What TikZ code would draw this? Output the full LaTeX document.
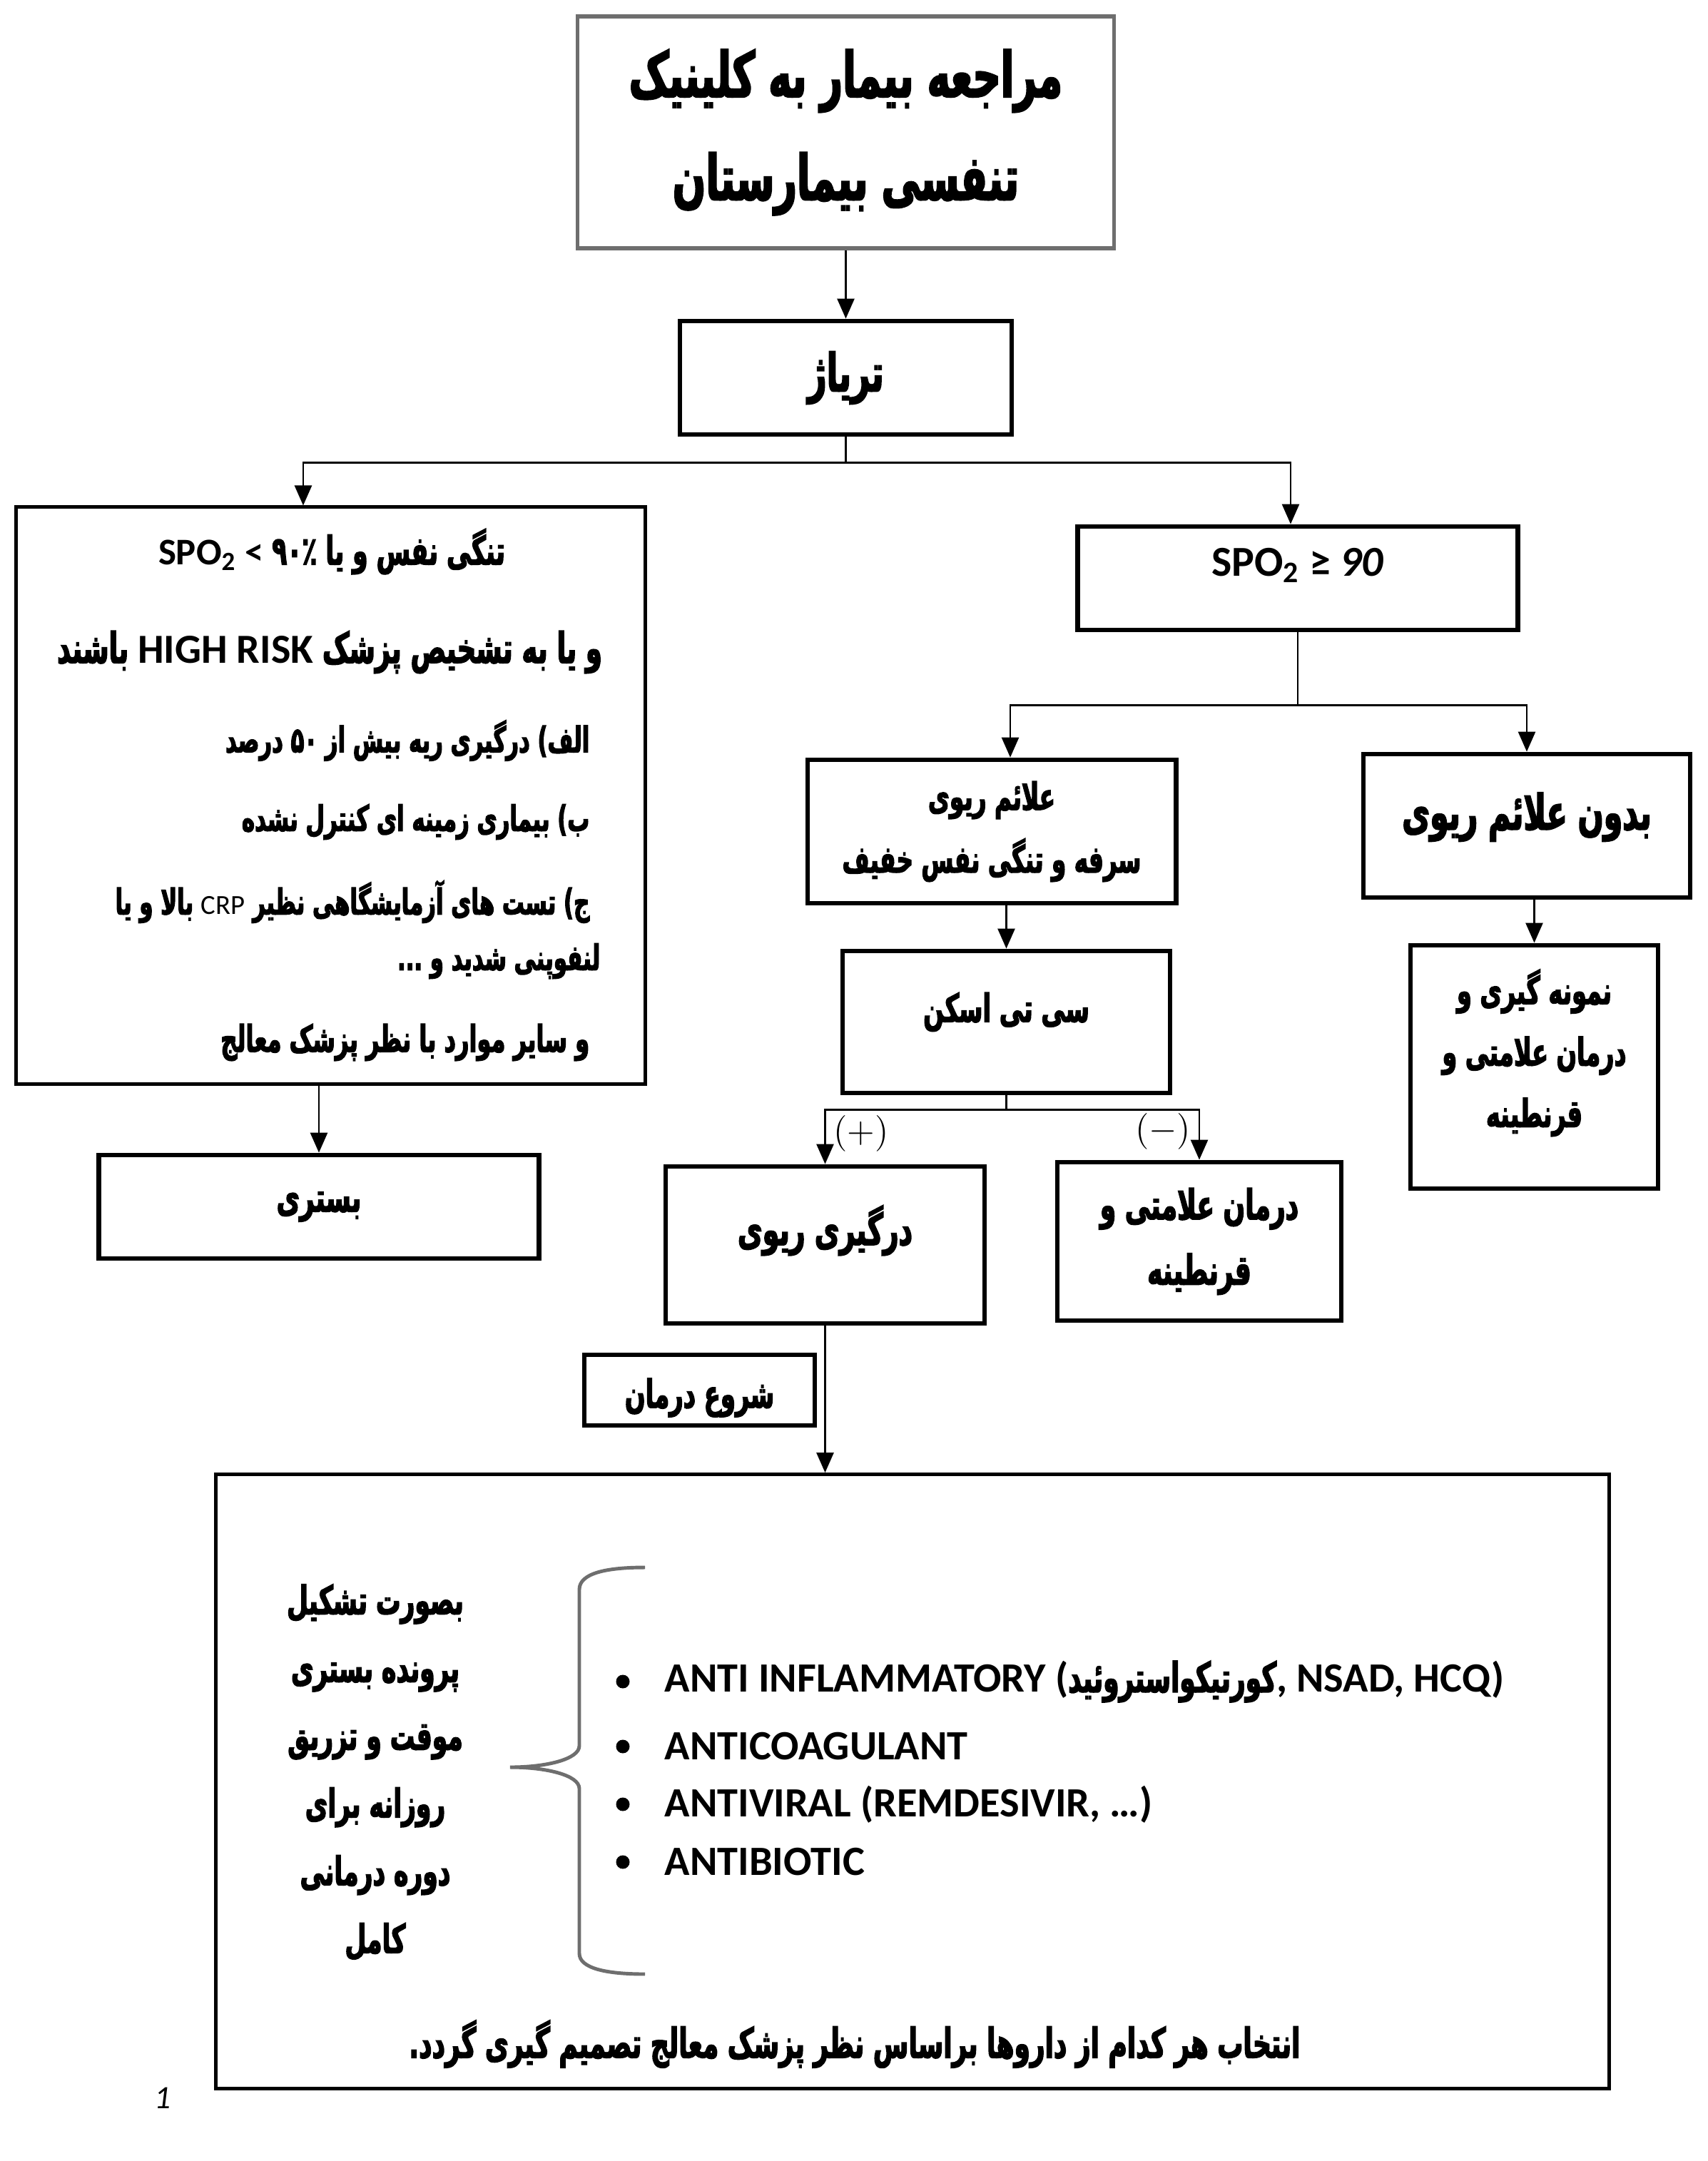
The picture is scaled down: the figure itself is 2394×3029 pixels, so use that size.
\documentclass[tikz,border=0pt]{standalone}
\usepackage{fontspec}
\setmainfont{Carlito}
\newfontfamily\latinfont{Carlito}
\newfontfamily\persianfont[Script=Arabic,FakeStretch=0.62,FakeBold=2.5]{DejaVu Sans}
\TeXXeTstate=1
\usepackage{tikz}
\usetikzlibrary{arrows.meta,positioning,calc}
\definecolor{Ink}{HTML}{000000}
\definecolor{Frame}{HTML}{6E6E6E}
\newcommand{\fatext}[1]{{\persianfont\beginR #1\endR}}
\newcommand{\latinpart}[2]{{\latinfont\fontsize{#1}{#1}\selectfont #2}}
\newcommand{\lift}[2]{\raisebox{#1}[0pt][0pt]{#2}}
\tikzset{
  stepbox/.style={draw=Ink,line width=1.9pt,fill=white,inner sep=0pt,align=center},
  titlebox/.style={stepbox,draw=Frame,line width=1.5pt},
  criteriabox/.style={stepbox,line width=1.3pt},
  treatbox/.style={stepbox,line width=1.5pt},
  fsize/.style 2 args={font=\bfseries\persianfont\fontsize{#1}{#2}\selectfont},
  lsize/.style 2 args={font=\bfseries\fontsize{#1}{#2}\selectfont},
  textline/.style={inner sep=0pt},
  arrow/.style={-{Triangle[length=2.8mm,width=2.4mm]},line width=0.75pt,draw=Ink},
  link/.style={line width=0.75pt,draw=Ink},
  branch/.style={font=\fontsize{14}{16}\selectfont,inner sep=3pt},
  brace/.style={draw=Frame,line width=1.4pt},
  dot/.style={circle,fill=Ink,inner sep=0pt,minimum size=1.9mm}
}
\begin{document}
\begin{tikzpicture}[x=0.01cm,y=-0.01cm]
  \useasboundingbox (0,0) rectangle (2394,3029);
  \node[titlebox,minimum width=75.1mm,minimum height=32.5mm,fsize={25}{41}] (visit) at (1185.5,185.5) {\fatext{مراجعه بیمار به کلینیک}\\\fatext{تنفسی بیمارستان}};
  \node[stepbox,minimum width=46.5mm,minimum height=15.9mm,fsize={21}{24}] (triage) at (1185.5,529.5) {\fatext{تریاژ}};
  \node[criteriabox,minimum width=88.1mm,minimum height=80.8mm] (severe) at (463.5,1115) {};
  \node[stepbox,minimum width=61.6mm,minimum height=14.5mm,lsize={17}{20}] (mild) at (1819,810.5) {\lift{1pt}{SPO\textsubscript{2} ≥ \textit{90}}};
  \node[stepbox,minimum width=51.6mm,minimum height=20.1mm,fsize={15}{25}] (lungsym) at (1390,1165.5) {\fatext{علائم ریوی}\\\fatext{سرفه و تنگی نفس خفیف}};
  \node[stepbox,minimum width=45.8mm,minimum height=20.1mm,fsize={19.5}{22}] (nosym) at (2140,1157.5) {\lift{-1.5pt}{\fatext{بدون علائم ریوی}}};
  \node[stepbox,minimum width=45.9mm,minimum height=19.9mm,fsize={15.5}{20}] (ctscan) at (1410.5,1432.5) {\lift{0pt}{\fatext{سی تی اسکن}}};
  \node[stepbox,minimum width=34.7mm,minimum height=34.1mm,fsize={15.3}{24.5},text depth=15pt] (sampling) at (2150.5,1495.5) {\fatext{نمونه گیری و}\\\fatext{درمان علامتی و}\\\fatext{قرنطینه}};
  \node[stepbox,minimum width=44.7mm,minimum height=22mm,fsize={17.4}{20}] (involve) at (1156.5,1745) {\lift{0pt}{\fatext{درگیری ریوی}}};
  \node[stepbox,minimum width=39.8mm,minimum height=22.2mm,fsize={16.5}{26}] (symtreat) at (1681,1740) {\fatext{درمان علامتی و}\\\fatext{قرنطینه}};
  \node[stepbox,minimum width=61.6mm,minimum height=14.5mm,fsize={16.3}{20}] (admit) at (447,1691.5) {\fatext{بستری}};
  \node[stepbox,minimum width=32.3mm,minimum height=9.9mm,fsize={15.5}{20}] (startrx) at (980.5,1948.5) {\lift{-7pt}{\fatext{شروع درمان}}};
  \node[treatbox,minimum width=195.2mm,minimum height=86mm] (regimen) at (1279,2497) {};
  \node[textline,fsize={15.8}{18}] (sev1) at (465,773) {\fatext{تنگی نفس و یا \beginL\latinpart{15}{SPO\textsubscript{2} <} ۹۰٪\endL}};
  \node[textline,fsize={16.9}{18}] (sev2) at (462,914) {\fatext{و یا به تشخیص پزشک \beginL\latinpart{16.5}{HIGH RISK}\endL{} باشند}};
  \node[textline,fsize={14.1}{18},anchor=east] (sev3) at (827,1038) {\fatext{الف) درگیری ریه بیش از ۵۰ درصد}};
  \node[textline,fsize={14.1}{18},anchor=east] (sev4) at (827,1152) {\fatext{ب) بیماری زمینه ای کنترل نشده}};
  \node[textline,fsize={14.1}{18},anchor=east] (sev5) at (827,1264) {\fatext{ج) تست های آزمایشگاهی نظیر \beginL{\mdseries\latinpart{11}{CRP}}\endL{} بالا  و یا}};
  \node[textline,fsize={14.1}{18},anchor=east] (sev6) at (842,1347) {\fatext{لنفوپنی شدید و ...}};
  \node[textline,fsize={14.7}{18},anchor=east] (sev7) at (827,1461) {\fatext{و سایر موارد با نظر پزشک معالج}};
  \draw[arrow] (visit) -- (triage);
  \coordinate (triagefork) at ($(triage.south)+(0,36)$);
  \draw[link] (triage.south) -- (triagefork);
  \draw[arrow] (triagefork) -| ([xshift=-3.85mm]severe.north);
  \draw[arrow] (triagefork) -| ([xshift=-1mm]mild.north);
  \coordinate (mildfork) at ($(mild.south)+(0,102)$);
  \draw[link] (mild.south) -- (mildfork);
  \draw[arrow] (mildfork) -| ([xshift=2.6mm]lungsym.north);
  \draw[arrow] (mildfork) -| (nosym.north);
  \draw[arrow] (lungsym.south -| ctscan.north) -- (ctscan.north);
  \draw[arrow] (nosym.south -| sampling.north) -- (sampling.north);
  \coordinate (ctfork) at ($(ctscan.south)+(0,20)$);
  \draw[link] (ctscan.south) -- (ctfork);
  \draw[arrow] (ctfork) -| node[branch,pos=0.72,right] {$(+)$} (involve.north);
  \draw[arrow] (ctfork) -| node[branch,pos=0.72,left] {$(-)$} (symtreat.north);
  \draw[arrow] (severe.south -| admit.north) -- (admit.north);
  \draw[arrow] (involve) -- (involve.south |- regimen.north);
  \node[textline,fsize={15.8}{27},align=center] (inpatient) at (526,2484) {\fatext{بصورت تشکیل}\\\fatext{پرونده بستری}\\\fatext{موقت و تزریق}\\\fatext{روزانه برای}\\\fatext{دوره درمانی}\\\fatext{کامل}};
  \draw[brace] (904,2197) .. controls (850,2197) and (812,2205) .. (812,2228) -- (812,2447) .. controls (812,2466) and (765,2477) .. (715,2477) .. controls (765,2477) and (812,2488) .. (812,2507) -- (812,2738) .. controls (812,2759) and (850,2767) .. (904,2767);
  \node[dot] (dot1) at (873,2357) {};
  \node[dot] (dot2) at (873,2448) {};
  \node[dot] (dot3) at (873,2529) {};
  \node[dot] (dot4) at (873,2610) {};
  \node[textline,lsize={16.6}{20},anchor=west] (drug1) at (931,2357) {ANTI INFLAMMATORY ({\persianfont\fontsize{16.5}{20}\selectfont\beginR کورتیکواستروئید\endR}, NSAD, HCQ)};
  \node[textline,lsize={16.6}{20},anchor=west] (drug2) at (931,2448) {ANTICOAGULANT};
  \node[textline,lsize={16.6}{20},anchor=west] (drug3) at (931,2529) {ANTIVIRAL (REMDESIVIR, …)};
  \node[textline,lsize={16.6}{20},anchor=west] (drug4) at (931,2610) {ANTIBIOTIC};
  \node[textline,fsize={16.5}{18}] (choice) at (1198,2865) {\fatext{انتخاب هر کدام از داروها براساس نظر پزشک معالج تصمیم گیری گردد.}};
  \node[textline,font=\itshape\fontsize{13}{15}\selectfont] (pagenum) at (228,2941) {1};
\end{tikzpicture}
\end{document}
